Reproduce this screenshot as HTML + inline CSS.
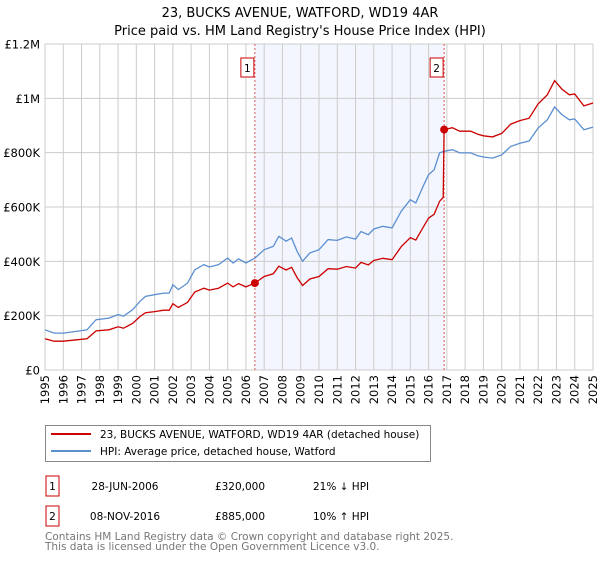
<!DOCTYPE html>
<html><head><meta charset="utf-8"><style>
body{margin:0;background:#fff;font-family:"Liberation Sans","DejaVu Sans",sans-serif;}
svg text{font-family:"DejaVu Sans","Liberation Sans",sans-serif;}
</style></head><body>
<svg id="chart" width="600" height="560" xmlns="http://www.w3.org/2000/svg">
<text x="300" y="17" text-anchor="middle" font-size="13">23, BUCKS AVENUE, WATFORD, WD19 4AR</text>
<text x="300" y="35" text-anchor="middle" font-size="13">Price paid vs. HM Land Registry's House Price Index (HPI)</text>
<g id="plot"></g>
<g>
<rect x="45.5" y="425.5" width="385" height="36" fill="#fff" stroke="#888"/>
<line x1="51" y1="434" x2="91" y2="434" stroke="#cc0000" stroke-width="2"/>
<text x="100" y="438" font-size="10.5">23, BUCKS AVENUE, WATFORD, WD19 4AR (detached house)</text>
<line x1="51" y1="451" x2="91" y2="451" stroke="#5b8fd0" stroke-width="2"/>
<text x="100" y="455" font-size="10.5">HPI: Average price, detached house, Watford</text>
</g>
<g>
<rect x="46" y="476" width="13" height="20" fill="#fff" stroke="#cc0000"/>
<text x="52.5" y="490" text-anchor="middle" font-size="10.5">1</text>
<text x="125" y="490" text-anchor="middle" font-size="10.5">28-JUN-2006</text>
<text x="240" y="490" text-anchor="middle" font-size="10.5">£320,000</text>
<text x="313" y="490" font-size="10.5">21% ↓ HPI</text>
<rect x="46" y="506" width="13" height="20" fill="#fff" stroke="#cc0000"/>
<text x="52.5" y="520" text-anchor="middle" font-size="10.5">2</text>
<text x="125" y="520" text-anchor="middle" font-size="10.5">08-NOV-2016</text>
<text x="240" y="520" text-anchor="middle" font-size="10.5">£885,000</text>
<text x="313" y="520" font-size="10.5">10% ↑ HPI</text>
</g>
<text x="45" y="540" font-size="10.5" fill="#777">Contains HM Land Registry data © Crown copyright and database right 2025.</text>
<text x="45" y="550" font-size="10.5" fill="#777">This data is licensed under the Open Government Licence v3.0.</text>
</svg>
<script>
const hpiYears=[1995,1995.5,1996,1997,1997.3,1997.8,1998.5,1999,1999.3,1999.8,2000.2,2000.5,2001,2001.5,2001.8,2002,2002.3,2002.8,2003.2,2003.7,2004,2004.5,2005,2005.3,2005.6,2006,2006.49,2007,2007.5,2007.8,2008.2,2008.5,2008.8,2009.1,2009.5,2010,2010.5,2011,2011.5,2012,2012.3,2012.7,2013,2013.5,2014,2014.5,2015,2015.3,2015.7,2016,2016.3,2016.6,2016.85,2017.3,2017.7,2018.3,2018.7,2019,2019.5,2020,2020.5,2021,2021.5,2022,2022.5,2022.9,2023.3,2023.7,2024,2024.5,2025];
const hpiValues=[148,136,136,145,148,185,191,204,198,222,253,271,277,283,283,314,296,320,369,388,379,388,412,394,409,394,412,443,455,492,474,486,437,400,431,443,480,477,490,482,510,498,519,529,523,584,627,615,676,719,737,799,805,811,799,799,789,784,780,792,823,835,843,891,921,968,940,921,924,884,894];
const propYears=[1995,1995.5,1996,1997,1997.3,1997.8,1998.5,1999,1999.3,1999.8,2000.2,2000.5,2001,2001.5,2001.8,2002,2002.3,2002.8,2003.2,2003.7,2004,2004.5,2005,2005.3,2005.6,2006,2006.49,2007,2007.5,2007.8,2008.2,2008.5,2008.8,2009.1,2009.5,2010,2010.5,2011,2011.5,2012,2012.3,2012.7,2013,2013.5,2014,2014.5,2015,2015.3,2015.7,2016,2016.3,2016.6,2016.8,2016.85,2017.3,2017.7,2018.3,2018.7,2019,2019.5,2020,2020.5,2021,2021.5,2022,2022.5,2022.9,2023.3,2023.7,2024,2024.5,2025];
const propValues=[115,106,106,113,115,144,148,159,154,172,197,211,215,220,220,244,230,249,287,301,294,301,320,306,318,306,320,344,354,382,368,378,340,311,335,344,373,371,381,375,396,387,403,411,406,454,487,478,525,559,573,621,635,885,892,879,879,868,862,858,871,905,918,927,980,1013,1065,1034,1013,1016,972,983];
const saleYears=[2006.49,2016.85];
const saleValues=[320,885];
const saleLabels=["1","2"];
const yTicks=[0,200,400,600,800,1000,1200];
const yTickLabels=["£0","£200K","£400K","£600K","£800K","£1M","£1.2M"];
const xTicks=[1995,1996,1997,1998,1999,2000,2001,2002,2003,2004,2005,2006,2007,2008,2009,2010,2011,2012,2013,2014,2015,2016,2017,2018,2019,2020,2021,2022,2023,2024,2025];

const X0=45,X1=593,Y0=370,Y1=44;
const xs=y=>X0+(y-1995)/30*(X1-X0);
const ys=v=>Y0-v/1200*(Y0-Y1);
const NS="http://www.w3.org/2000/svg";
const g=document.getElementById('plot');
function mk(t,a){const e=document.createElementNS(NS,t);for(const k in a)e.setAttribute(k,a[k]);g.appendChild(e);return e;}

const band=mk('rect',{x:xs(saleYears[0]),y:Y1,width:xs(saleYears[1])-xs(saleYears[0]),height:Y0-Y1,fill:'#f3f6fe'});


xTicks.forEach(t=>{const l=mk('line',{x1:xs(t),x2:xs(t),y1:Y1,y2:Y0,stroke:'#ccc','stroke-width':1});


const tx=mk('text',{x:0,y:0,'font-size':11.5,'text-anchor':'end',transform:`translate(${xs(t)+4},${Y0+5}) rotate(-90)`});
tx.textContent=t;

});
yTicks.forEach((t,i)=>{const l=mk('line',{x1:X0,x2:X1,y1:ys(t),y2:ys(t),stroke:'#ccc','stroke-width':1});


const tx=mk('text',{x:X0-5,y:ys(t)+4.5,'font-size':11.5,'text-anchor':'end'});
tx.textContent=yTickLabels[i];

});
saleYears.forEach((s,i)=>{const l=mk('line',{x1:xs(s),x2:xs(s),y1:Y1,y2:Y0,stroke:'#e05555','stroke-dasharray':'2,2','stroke-width':1});

});
function pts(xa,va){return xa.map((y,i)=>xs(y).toFixed(1)+','+ys(va[i]).toFixed(1)).join(' ');}
const h=mk('polyline',{points:pts(hpiYears,hpiValues),fill:'none',stroke:'#5b8fd0','stroke-width':1.3});


const p=mk('polyline',{points:pts(propYears,propValues),fill:'none',stroke:'#cc0000','stroke-width':1.3});


saleYears.forEach((s,i)=>{const c=mk('circle',{cx:xs(s),cy:ys(saleValues[i]),r:4,fill:'#cc0000'});


const b=mk('rect',{x:xs(s)-14,y:58,width:13,height:19,fill:'#fff',stroke:'#cc0000'});


const t=mk('text',{x:xs(s)-7.5,y:72,'font-size':10.5,'text-anchor':'middle'});
t.textContent=saleLabels[i];

});
</script>
</body></html>
